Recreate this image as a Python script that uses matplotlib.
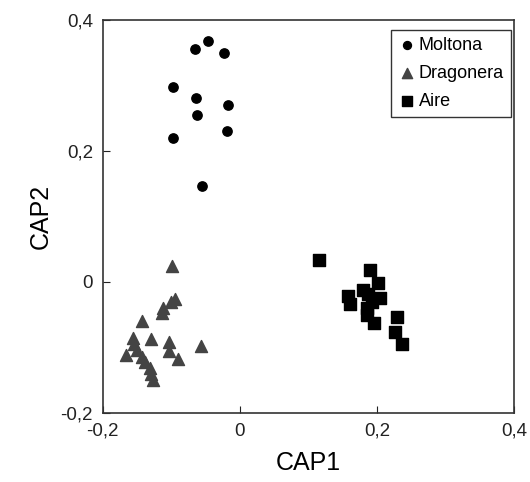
import matplotlib
matplotlib.use("Agg")
import matplotlib.pyplot as plt

plt.rcParams['font.family'] = ['Liberation Sans', 'DejaVu Sans']

# Moltona
moltona_x = [-0.046, -0.066, -0.023, -0.098, -0.064, -0.017, -0.063, -0.019, -0.097, -0.055]
moltona_y = [0.368, 0.355, 0.349, 0.298, 0.280, 0.270, 0.255, 0.231, 0.219, 0.147]

# Dragonera
dragonera_x = [-0.099, -0.094, -0.101, -0.112, -0.113, -0.143, -0.156, -0.155, -0.129,
               -0.104, -0.104, -0.166, -0.150, -0.143, -0.138, -0.090, -0.131, -0.129,
               -0.127, -0.057]
dragonera_y = [0.025, -0.026, -0.031, -0.040, -0.048, -0.060, -0.086, -0.094, -0.087,
               -0.091, -0.106, -0.112, -0.104, -0.114, -0.122, -0.118, -0.132, -0.141,
               -0.150, -0.097]

# Aire
aire_x = [0.116, 0.190, 0.202, 0.180, 0.187, 0.204, 0.158, 0.160, 0.185, 0.185, 0.196,
          0.229, 0.226, 0.236, 0.192]
aire_y = [0.034, 0.018, -0.002, -0.012, -0.018, -0.025, -0.022, -0.034, -0.040, -0.050,
          -0.063, -0.053, -0.077, -0.094, -0.030]

xticks = [-0.2, 0, 0.2, 0.4]
xlabels = ['-0,2', '0', '0,2', '0,4']
yticks = [-0.2, 0, 0.2, 0.4]
ylabels = ['-0,2', '0', '0,2', '0,4']

fig = plt.figure(figsize=(5.3, 4.82), dpi=100)
ax = fig.add_axes([0.194, 0.143, 0.776, 0.816])

ax.scatter(moltona_x, moltona_y, marker='o', s=45, color='black', label='Moltona', zorder=3)
ax.scatter(dragonera_x, dragonera_y, marker='^', s=75, color='#444444', label='Dragonera', zorder=3)
ax.scatter(aire_x, aire_y, marker='s', s=80, color='black', label='Aire', zorder=3)

ax.set_xlim(-0.2, 0.4)
ax.set_ylim(-0.2, 0.4)
ax.set_xticks(xticks)
ax.set_xticklabels(xlabels)
ax.set_yticks(yticks)
ax.set_yticklabels(ylabels)
ax.tick_params(direction='in', length=5, labelsize=13.5, pad=7, colors='#222222')
for s in ax.spines.values():
    s.set_linewidth(1.2)
    s.set_color('#333333')

ax.set_xlabel('CAP1', fontsize=18, labelpad=8)
ax.set_ylabel('CAP2', fontsize=18, labelpad=6)

leg = ax.legend(loc='upper right', bbox_to_anchor=(0.993, 0.975), fontsize=13,
                frameon=True, fancybox=False, edgecolor='black', handletextpad=0.15,
                handlelength=1.0, borderpad=0.4, labelspacing=0.62, borderaxespad=0,
                markerscale=0.85)
leg.get_frame().set_linewidth(1.0)

fig.savefig('out.png', dpi=100)
